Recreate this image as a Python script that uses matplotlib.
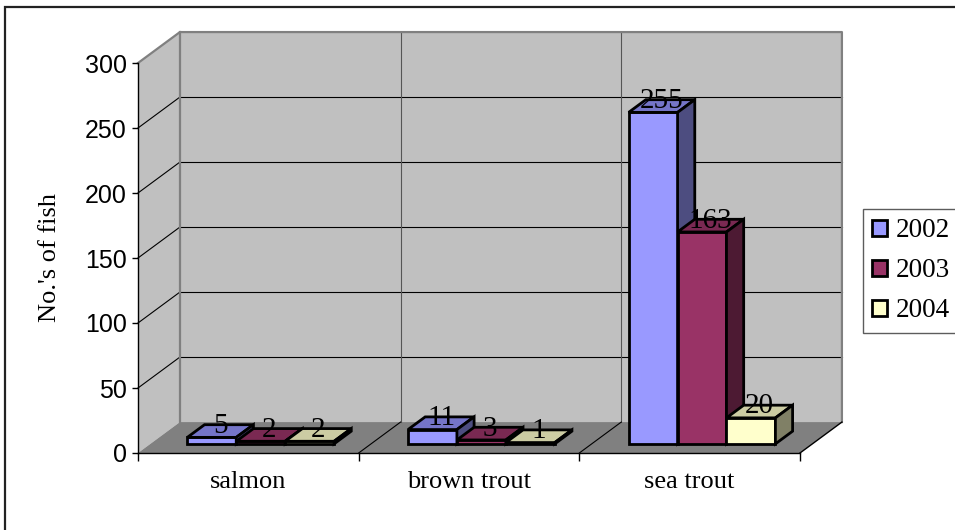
import matplotlib
matplotlib.use("Agg")
import matplotlib.pyplot as plt
from matplotlib.patches import Polygon, Rectangle, Patch
import numpy as np

# --- data ---
categories = ["salmon", "brown trout", "sea trout"]
years = ["2002", "2003", "2004"]
fish_2002 = [5, 11, 255]
fish_2003 = [2, 3, 163]
fish_2004 = [2, 1, 20]
y_ticks = [0, 50, 100, 150, 200, 250, 300]

series = [fish_2002, fish_2003, fish_2004]
front_colors = ["#9999FF", "#993366", "#FFFFCC"]
top_colors = ["#7575C8", "#7A2952", "#CCCCA3"]
side_colors = ["#4D4D80", "#4D1A33", "#808066"]

# --- fake 3D geometry, in data units ---
DX = 0.19        # depth offset along x (categories)
DY = 23.8        # depth offset along y (fish)
Y_MAX = 300
GROUP = 0.665    # width of a bar group inside one category
BAR_D0 = 0.295   # depth where the bar fronts sit
BAR_T = 0.41     # bar depth as fraction of the full depth

SERIF = "Liberation Serif"
SANS = "Liberation Sans"
WALL_EDGE = "#808080"
BAR_LW = 2.0

fig = plt.figure(figsize=(9.55, 5.3), dpi=100)
ax = fig.add_axes([138 / 955, 77 / 530, 662 / 955, 390 / 530])
ax.set_xlim(0, 3)
ax.set_ylim(0, Y_MAX)
ax.patch.set_visible(False)

n_cat = len(categories)

# walls and floor
side_wall = Polygon([(0, 0), (0, Y_MAX), (DX, Y_MAX + DY), (DX, DY)],
                    closed=True, facecolor="#C0C0C0", edgecolor="none", zorder=0, clip_on=False)
back_wall = Polygon([(DX, DY), (DX, Y_MAX + DY), (n_cat + DX, Y_MAX + DY), (n_cat + DX, DY)],
                    closed=True, facecolor="#C0C0C0", edgecolor="none", zorder=0, clip_on=False)
floor = Polygon([(0, 0), (n_cat, 0), (n_cat + DX, DY), (DX, DY)],
                closed=True, facecolor="#808080", edgecolor="none", zorder=0, clip_on=False)
for p in (side_wall, back_wall, floor):
    ax.add_patch(p)

# gridlines on the side and back walls
for yv in y_ticks[1:-1]:
    ax.plot([0, DX], [yv, yv + DY], color="black", lw=0.8, zorder=1, clip_on=False)
    ax.plot([DX, n_cat + DX], [yv + DY, yv + DY], color="black", lw=0.8, zorder=1, clip_on=False)

# category dividers on back wall and floor
for xc in range(1, n_cat):
    ax.plot([xc + DX, xc + DX], [DY, Y_MAX + DY], color="#555555", lw=0.8, zorder=1, clip_on=False)
    ax.plot([xc, xc + DX], [0, DY], color="black", lw=0.8, zorder=1, clip_on=False)

# wall outlines
ax.plot([0, DX, n_cat + DX, n_cat + DX], [Y_MAX, Y_MAX + DY, Y_MAX + DY, DY],
        color=WALL_EDGE, lw=1.6, zorder=1, clip_on=False)
ax.plot([DX, DX], [DY, Y_MAX + DY], color=WALL_EDGE, lw=1.6, zorder=1, clip_on=False)
ax.plot([n_cat, n_cat + DX], [0, DY], color="black", lw=1.0, zorder=1, clip_on=False)

# bars
bar_w = GROUP / len(series)
x_idx = np.arange(n_cat)
for j, vals in enumerate(series):
    z = 3 + j
    xl = x_idx + (1 - GROUP) / 2 + j * bar_w + BAR_D0 * DX
    yb = BAR_D0 * DY
    tdx, tdy = BAR_T * DX, BAR_T * DY
    ax.bar(xl, vals, width=bar_w, bottom=yb, align="edge",
           color=front_colors[j], edgecolor="black", linewidth=BAR_LW, zorder=z, clip_on=False)
    for x0, v in zip(xl, vals):
        top = Polygon([(x0, yb + v), (x0 + bar_w, yb + v),
                       (x0 + bar_w + tdx, yb + v + tdy), (x0 + tdx, yb + v + tdy)],
                      closed=True, facecolor=top_colors[j], edgecolor="black",
                      linewidth=BAR_LW, zorder=z, clip_on=False)
        side = Polygon([(x0 + bar_w, yb), (x0 + bar_w + tdx, yb + tdy),
                        (x0 + bar_w + tdx, yb + v + tdy), (x0 + bar_w, yb + v)],
                       closed=True, facecolor=side_colors[j], edgecolor="black",
                       linewidth=BAR_LW, zorder=z, clip_on=False)
        ax.add_patch(top)
        ax.add_patch(side)
        ax.text(x0 + bar_w / 2 + tdx / 2, yb + v + tdy / 2 - 1.5, str(v),
                ha="center", va="baseline", fontsize=21, family=SERIF,
                zorder=10, clip_on=False)

# axes: front left and bottom edges
for s in ("top", "right"):
    ax.spines[s].set_visible(False)
for s in ("left", "bottom"):
    ax.spines[s].set_linewidth(1.0)
    ax.spines[s].set_zorder(2)

ax.set_yticks(y_ticks)
ax.set_yticklabels([str(t) for t in y_ticks], family=SANS, fontsize=18)
ax.tick_params(axis="y", direction="out", length=4, width=1, pad=4)

ax.set_xticks(range(n_cat + 1))
ax.set_xticklabels([])
ax.tick_params(axis="x", which="major", direction="out", length=6, width=1)
ax.set_xticks(x_idx + 0.5, minor=True)
ax.set_xticklabels(categories, minor=True, family=SERIF, fontsize=19)
ax.tick_params(axis="x", which="minor", length=0, pad=13)

ax.set_ylabel("No.'s of fish", family=SERIF, fontsize=19)
ax.yaxis.set_label_coords(-0.133, 0.5)
ax.yaxis.label.set_va("center")

# legend
handles = [Patch(facecolor=c, edgecolor="black", linewidth=BAR_LW) for c in front_colors]
leg = fig.legend(handles, years, loc="upper left",
                 bbox_to_anchor=(863 / 955, 1 - 209 / 530),
                 prop={"family": SERIF, "size": 19.5},
                 handlelength=0.55, handleheight=0.55, handletextpad=0.3,
                 labelspacing=0.55, borderpad=0.35, borderaxespad=0,
                 fancybox=False, frameon=True)
leg.get_frame().set_edgecolor("#333333")
leg.get_frame().set_linewidth(1.0)

# outer chart border
fig.patches.append(Rectangle((5 / 955, -0.05), 1.1, 1 - 7 / 530 + 0.05,
                             transform=fig.transFigure, fill=False,
                             edgecolor="#222222", linewidth=1.6))

fig.savefig("out.png", dpi=100)
